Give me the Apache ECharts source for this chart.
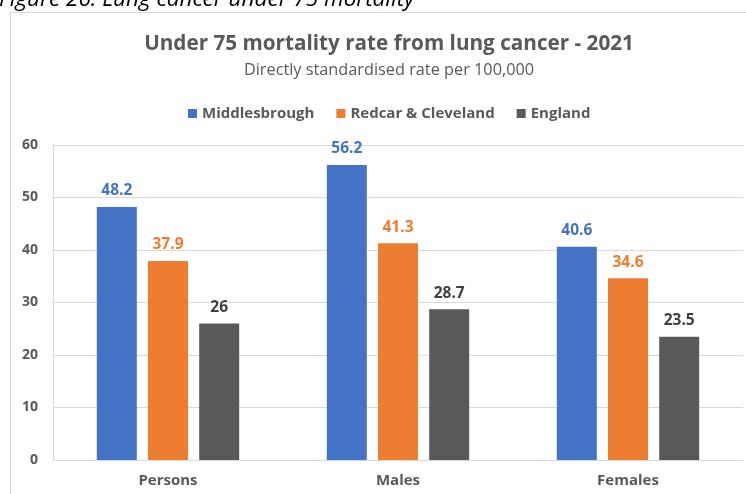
<!DOCTYPE html>
<html lang="en">
<head>
    <meta charset="UTF-8">
    <title>Lung cancer under 75 mortality</title>
    <script src="https://cdn.jsdelivr.net/npm/echarts@6/dist/echarts.min.js"></script>
    <style>
        html, body { margin: 0; padding: 0; background: #fff; }
        #main { width: 746px; height: 494px; }
    </style>
</head>
<body>

<div id="main"></div>

<script type="text/javascript">

    // data
    var categories = ['Persons', 'Males', 'Females'];
    var middlesbrough = [48.2, 56.2, 40.6];
    var redcar = [37.9, 41.3, 34.6];
    var england = [26, 28.7, 23.5];

    var font = '"Open Sans", "Noto Sans", sans-serif';

    var myChart = echarts.init(document.getElementById('main'));

    function barSeries(name, data, color, labelColor) {
        return {
            name: name,
            type: 'bar',
            data: data,
            barWidth: 40,
            barGap: '28%',
            itemStyle: { color: color },
            label: {
                show: true,
                position: 'top',
                distance: 8,
                color: labelColor,
                fontFamily: font,
                fontWeight: 'bold',
                fontSize: 15.5
            }
        };
    }

    var option = {
        animation: false,
        textStyle: { fontFamily: font },
        title: [
            {
                text: 'Under 75 mortality rate from lung cancer - 2021',
                subtext: 'Directly standardised rate per 100,000',
                left: 384,
                textAlign: 'center',
                top: 29,
                itemGap: 7,
                textStyle: { fontSize: 20.7, fontWeight: 'bold', color: '#595959', fontFamily: font },
                subtextStyle: { fontSize: 16.3, color: '#595959', fontFamily: font }
            }
        ],
        graphic: [
            {
                type: 'rect',
                shape: { x: 10.5, y: 12.5, width: 760, height: 500 },
                style: { fill: null, stroke: '#d9d9d9', lineWidth: 1 },
                z: -1
            },
            {
                type: 'text',
                left: -1,
                top: -12,
                style: {
                    text: 'Figure 26: Lung cancer under 75 mortality',
                    fontFamily: font,
                    fontStyle: 'italic',
                    fontSize: 22.5,
                    lineHeight: 22.5,
                    fill: '#000'
                }
            }
        ],
        legend: {
            data: ['Middlesbrough', 'Redcar & Cleveland', 'England'],
            top: 101,
            left: 183,
            itemWidth: 9,
            itemHeight: 9,
            itemGap: 22,
            icon: 'rect',
            textStyle: { fontSize: 15, fontWeight: 'bold', color: '#595959', fontFamily: font }
        },
        grid: {
            left: 53,
            right: 3,
            top: 145,
            bottom: 34
        },
        xAxis: {
            type: 'category',
            data: categories,
            axisLine: { lineStyle: { color: '#d9d9d9' } },
            axisTick: { show: false },
            axisLabel: {
                margin: 13,
                fontSize: 15,
                fontWeight: 'bold',
                color: '#595959',
                fontFamily: font
            }
        },
        yAxis: {
            type: 'value',
            min: 0,
            max: 60,
            interval: 10,
            axisLine: { show: true, lineStyle: { color: '#d9d9d9' } },
            axisTick: { show: false },
            splitLine: { lineStyle: { color: '#d9d9d9' } },
            axisLabel: {
                margin: 15,
                fontSize: 14,
                fontWeight: 'bold',
                color: '#595959',
                fontFamily: font
            }
        },
        series: [
            barSeries('Middlesbrough', middlesbrough, '#4472c4', '#4472c4'),
            barSeries('Redcar & Cleveland', redcar, '#ed7d31', '#ed7d31'),
            barSeries('England', england, '#595959', '#404040')
        ]
    };

    myChart.setOption(option);

</script>

</body>
</html>
